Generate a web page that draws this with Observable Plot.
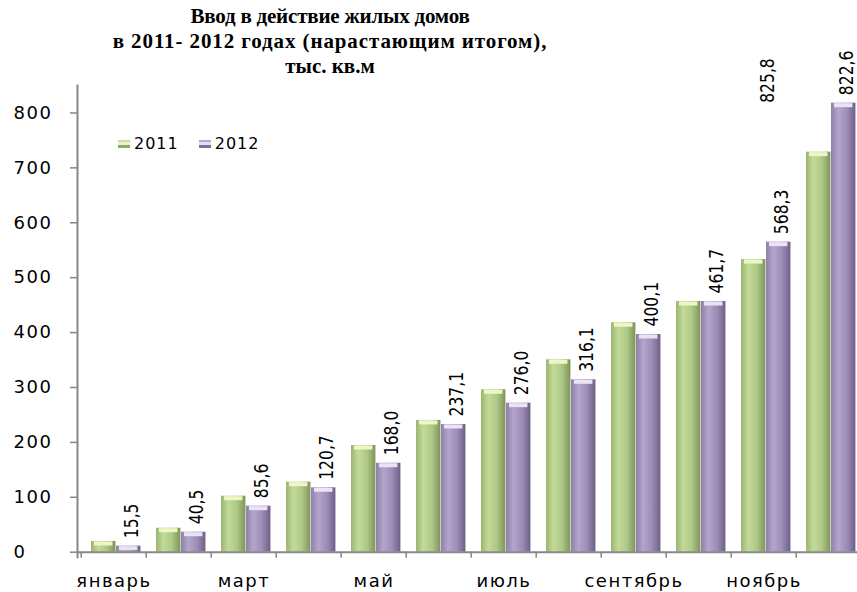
<!DOCTYPE html>
<html>
<head>
<meta charset="utf-8">
<script src="https://cdn.jsdelivr.net/npm/d3@7"></script>
<script src="https://cdn.jsdelivr.net/npm/@observablehq/plot@0.6"></script>
<style>
  body { margin: 0; background: #fff; }
  #wrap { position: relative; width: 857px; height: 592px; overflow: hidden; background: #fff; }
  #title { position: absolute; left: 0; top: 4px; width: 660px; text-align: center;
    font-family: "Liberation Serif", "Times New Roman", serif; font-weight: bold;
    font-size: 21px; line-height: 25px; color: #000; z-index: 2; }
  #title .l1 { letter-spacing: -0.2px; }
  #title .l2 { letter-spacing: 0.9px; }
  #legend { position: absolute; left: 118px; top: 134px; font-family: "DejaVu Sans", sans-serif;
    font-size: 16px; letter-spacing: 1px; color: #000; z-index: 2; display: flex; align-items: center; }
  #legend .sw { display: inline-block; width: 12px; height: 8px; margin-right: 4px; }
  #legend .item { display: flex; align-items: center; margin-right: 20px; }
</style>
</head>
<body>
<div id="wrap">
  <div id="title"><span class="l1">Ввод в действие жилых домов</span><br><span class="l2">в 2011- 2012 годах (нарастающим итогом),</span><br><span class="l3">тыс. кв.м</span></div>
  <div id="legend"></div>
</div>
<script>
const months = ["январь","февраль","март","апрель","май","июнь","июль","август","сентябрь","октябрь","ноябрь","декабрь"];
const tickMonths = ["январь","март","май","июль","сентябрь","ноябрь"];
const values2011 = [19.5, 43.7, 102, 127.5, 194.3, 240, 295.8, 350.4, 417.9, 456.6, 533, 728.6];
const values2012 = [11, 36.4, 83.8, 117.3, 162, 232.6, 271.4, 314, 396.5, 456.6, 564.7, 817.8];
const labels2012 = ["15,5","40,5","85,6","120,7","168,0","237,1","276,0","316,1","400,1","461,7","568,3","822,6"];
const extraMonth = ["ноябрь"];
const extraText = ["825,8"];
const extraValue = [825.8];
const yTicks = [0, 100, 200, 300, 400, 500, 600, 700, 800];
const series = ["2011", "2012"];

const d2011 = months.map((m, i) => ({month: m, value: values2011[i]}));
const d2012 = months.map((m, i) => ({month: m, value: values2012[i], label: labels2012[i]}));
const dExtra = extraMonth.map((m, i) => ({month: m, value: extraValue[i], label: extraText[i]}));

const x0 = 77, x1 = 864;
const bw = (x1 - x0) / months.length;
const barW = 25;
const off1 = 10, off2 = off1 + barW;

const axisColor = "#868686";
const labelFont = "'DejaVu Sans', sans-serif";

const plot = Plot.plot({
  width: 857,
  height: 592,
  marginLeft: x0,
  marginRight: 0,
  marginTop: 85,
  marginBottom: 40.3,
  x: {domain: months, range: [x0, x1], padding: 0},
  y: {domain: [0, 850]},
  style: {fontFamily: "DejaVu Sans, sans-serif", fontSize: "18px", color: "#000", background: "transparent", overflow: "visible"},
  marks: [
    Plot.barY(d2011, {x: "month", y: "value", fill: "url(#g2011)", insetLeft: off1, insetRight: bw - off1 - barW}),
    Plot.barY(d2012, {x: "month", y: "value", fill: "url(#g2012)", insetLeft: off2, insetRight: bw - off2 - barW}),
    Plot.tickY(d2011, {x: "month", y: "value", stroke: "#eef6c6", strokeWidth: 4, dy: 2, insetLeft: off1 + 3, insetRight: bw - off1 - barW + 3}),
    Plot.tickY(d2012, {x: "month", y: "value", stroke: "#ece2f8", strokeWidth: 4, dy: 2, insetLeft: off2 + 3, insetRight: bw - off2 - barW + 3}),
    Plot.ruleY([0], {stroke: axisColor, strokeWidth: 2}),
    Plot.frame({anchor: "left", stroke: axisColor, strokeWidth: 2, insetBottom: -5}),
    Plot.axisY({ticks: yTicks, tickSize: 7, stroke: axisColor, strokeWidth: 1.5, tickFormat: () => "", label: null}),
    Plot.axisY({ticks: yTicks, tickSize: 0, tickPadding: 0, textAnchor: "start", dx: 13 - x0, fontSize: 18, label: null, ariaLabel: "ylabels"}),
    Plot.axisX({ticks: months, tickSize: 6, stroke: axisColor, strokeWidth: 1.5, tickFormat: () => "", dx: -bw / 2, label: null}),
    Plot.axisX({ticks: tickMonths, tickSize: 0, tickPadding: 22, fontSize: 18, label: null, ariaLabel: "xlabels"}),
    Plot.text(d2012, {x: "month", y: "value", text: "label", rotate: -90, textAnchor: "start",
      dx: off2 + barW / 2 - bw / 2 + 3, dy: -8, fontSize: 19, fontFamily: labelFont, fill: "#000", ariaLabel: "values"}),
    Plot.text(dExtra, {x: "month", y: "value", text: "label", rotate: -90, textAnchor: "start",
      dx: 3.7, dy: 4, fontSize: 19, fontFamily: labelFont, fill: "#000", ariaLabel: "extra"})
  ]
});

const svg = d3.select(plot);
const defs = svg.insert("defs", ":first-child");
function grad(id, stops) {
  const g = defs.append("linearGradient").attr("id", id).attr("x1", "0").attr("x2", "1").attr("y1", "0").attr("y2", "0");
  stops.forEach(([o, c]) => g.append("stop").attr("offset", o).attr("stop-color", c));
}
grad("g2011", [["0", "#9bb472"], ["0.3", "#c3db99"], ["0.65", "#aec887"], ["1", "#7d9559"]]);
grad("g2012", [["0", "#8f7faa"], ["0.3", "#b3a5cb"], ["0.65", "#9d8db8"], ["1", "#6e5f88"]]);

// axis tick labels are wide-set in the reference; value labels are condensed
svg.selectAll("text").each(function () {
  const t = d3.select(this);
  const tr = t.attr("transform") || "";
  if (tr.includes("rotate")) {
    t.attr("transform", tr + " scale(0.82,1)").style("letter-spacing", "0");
  } else {
    t.style("letter-spacing", "1.5px");
  }
});

const wrap = document.getElementById("wrap");
plot.style.position = "absolute";
plot.style.left = "0";
plot.style.top = "0";
wrap.insertBefore(plot, wrap.firstChild);

const legendColors = {"2011": "linear-gradient(#c9e0a0 0 30%, #e8f4c8 30% 60%, #8ea866 60%)", "2012": "linear-gradient(#b4a6cc 0 30%, #e6dcf4 30% 60%, #7f6f99 60%)"};
const legend = document.getElementById("legend");
series.forEach(s => {
  const item = document.createElement("span");
  item.className = "item";
  const sw = document.createElement("span");
  sw.className = "sw";
  sw.style.background = legendColors[s];
  item.appendChild(sw);
  item.appendChild(document.createTextNode(s));
  legend.appendChild(item);
});
</script>
</body>
</html>
